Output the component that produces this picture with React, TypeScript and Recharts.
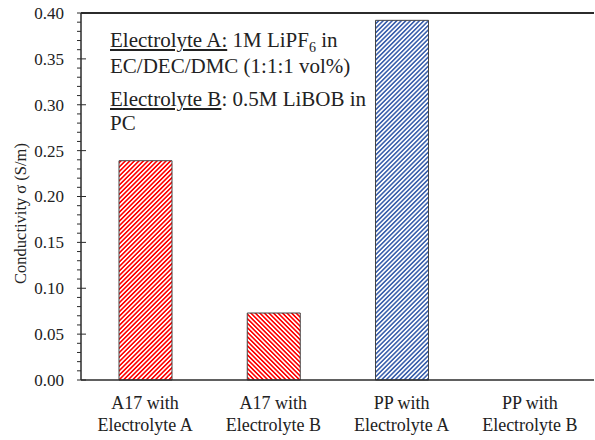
import React from "react";
import { BarChart, Bar, XAxis, YAxis, Cell, ReferenceLine } from "recharts";

// categories and values
const categories = [
  "A17 with Electrolyte A",
  "A17 with Electrolyte B",
  "PP with Electrolyte A",
  "PP with Electrolyte B",
];
const conductivity = [0.239, 0.073, 0.392, 0];
const hatchIds = ["hatchRedFwd", "hatchRedBack", "hatchBlueFwd", "hatchRedFwd"];

const majorTicks = [0, 0.05, 0.1, 0.15, 0.2, 0.25, 0.3, 0.35, 0.4];
const minorStep = 0.01;
const allTicks = Array.from({ length: 41 }, (_, i) => +(i * minorStep).toFixed(2));

const data = categories.map((name, i) => ({
  name,
  value: conductivity[i],
  hatch: hatchIds[i],
}));

const FONT = "Liberation Serif";
const AXIS = "#2b2b2b";

const YTick = (props: any) => {
  const { x, y, payload } = props;
  const isMajor = majorTicks.some((t) => Math.abs(t - payload.value) < 1e-6);
  return (
    <g>
      <line
        x1={x - 4}
        x2={isMajor ? x + 5 : x}
        y1={y}
        y2={y}
        stroke={AXIS}
        strokeWidth={1}
      />
      {isMajor && (
        <text
          x={x - 17}
          y={y}
          dy="0.35em"
          textAnchor="end"
          fontFamily={FONT}
          fontSize={17}
          fill="#222"
        >
          {payload.value.toFixed(2)}
        </text>
      )}
    </g>
  );
};

const XTick = (props: any) => {
  const { x, y, payload } = props;
  const parts = String(payload.value).split(" with ");
  return (
    <text
      x={x}
      y={y}
      textAnchor="middle"
      fontFamily={FONT}
      fontSize={18}
      fill="#222"
    >
      <tspan x={x} dy={21}>
        {parts[0]} with
      </tspan>
      <tspan x={x} dy={22}>
        {parts[1]}
      </tspan>
    </text>
  );
};

const YLabel = (props: any) => {
  const { viewBox } = props;
  const cx = viewBox.x + 20;
  const cy = viewBox.y + viewBox.height / 2 + 17;
  return (
    <text
      x={cx}
      y={cy}
      transform={`rotate(-90, ${cx}, ${cy})`}
      textAnchor="middle"
      dy="0.35em"
      fontFamily={FONT}
      fontSize={16.5}
      fill="#222"
    >
      Conductivity σ (S/m)
    </text>
  );
};

export default function App() {
  return (
    <div style={{ position: "absolute", left: 0, top: 0, width: 595, height: 440, background: "#fff", fontFamily: FONT }}>
      <svg width={0} height={0} style={{ position: "absolute" }}>
        <defs>
          <pattern id="hatchRedFwd" width={3.2} height={3.2} patternUnits="userSpaceOnUse" patternTransform="rotate(45)">
            <rect width={3.2} height={3.2} fill="#fff" />
            <rect width={1.6} height={3.2} fill="#ff0000" />
          </pattern>
          <pattern id="hatchRedBack" width={3.2} height={3.2} patternUnits="userSpaceOnUse" patternTransform="rotate(-45)">
            <rect width={3.2} height={3.2} fill="#fff" />
            <rect width={1.6} height={3.2} fill="#ff0000" />
          </pattern>
          <pattern id="hatchBlueFwd" width={3.2} height={3.2} patternUnits="userSpaceOnUse" patternTransform="rotate(45)">
            <rect width={3.2} height={3.2} fill="#fff" />
            <rect width={1.6} height={3.2} fill="#3d62ad" />
          </pattern>
        </defs>
      </svg>

      <BarChart
        width={595}
        height={440}
        data={data}
        margin={{ top: 13, right: 1, left: 0, bottom: 10 }}
        style={{ fontFamily: FONT }}
      >
        <XAxis
          dataKey="name"
          tickLine={false}
          axisLine={{ stroke: AXIS, strokeWidth: 1.5 }}
          tick={<XTick />}
          height={50}
          interval={0}
        />
        <YAxis
          domain={[0, 0.4]}
          ticks={allTicks}
          interval={0}
          width={81}
          tickSize={0}
          tickMargin={0}
          tickLine={false}
          axisLine={{ stroke: AXIS, strokeWidth: 1.5 }}
          tick={<YTick />}
          label={<YLabel />}
        />
        <ReferenceLine y={0.4} stroke={AXIS} strokeWidth={2} />
        <Bar dataKey="value" barSize={53} stroke="#444" strokeWidth={1} isAnimationActive={false}>
          {data.map((d, i) => (
            <Cell key={i} fill={`url(#${d.hatch})`} />
          ))}
        </Bar>
      </BarChart>

      <div
        style={{
          position: "absolute",
          left: 110,
          top: 27,
          fontFamily: FONT,
          fontSize: 21,
          lineHeight: "26px",
          color: "#222",
          whiteSpace: "nowrap",
        }}
      >
        <div>
          <u>Electrolyte A:</u> 1M LiPF<sub style={{ fontSize: 14, lineHeight: 0 }}>6</sub> in
        </div>
        <div>EC/DEC/DMC (1:1:1 vol%)</div>
        <div style={{ marginTop: 7 }}>
          <u>Electrolyte B</u>: 0.5M LiBOB in
        </div>
        <div style={{ marginTop: -2 }}>PC</div>
      </div>
    </div>
  );
}
